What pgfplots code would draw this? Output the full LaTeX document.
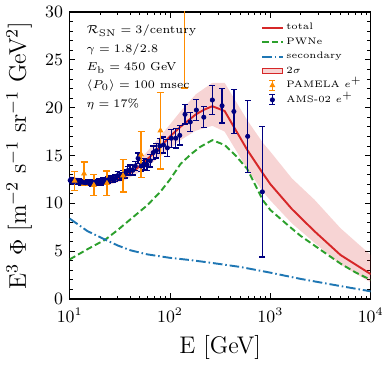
\documentclass[border=0pt]{standalone}
\usepackage{pgfplots}
\pgfplotsset{compat=1.18}
\definecolor{tred}{RGB}{214,39,40}
\definecolor{tgreen}{RGB}{44,160,44}
\definecolor{tblue}{RGB}{31,119,180}
\definecolor{porange}{RGB}{255,140,0}
\definecolor{amsnavy}{RGB}{0,0,128}
\begin{document}
\begin{tikzpicture}
\begin{axis}[
  scale only axis, width=156.5pt, height=149.25pt,
  xmode=log, xmin=10, xmax=10000, ymin=0, ymax=30,
  ytick={0,5,...,30}, minor y tick num=4,
  tick align=inside, major tick length=3pt, minor tick length=1.7pt,
  axis line style={line width=0.6pt},
  every tick/.style={black, line width=0.4pt},
  tick label style={font=\fontsize{9}{10}\selectfont},
  xticklabel style={yshift=-1pt},
  label style={font=\fontsize{12.5}{14}\selectfont},
  xlabel={E [GeV]},
  ylabel={E$^3$ $\Phi$ [m$^{-2}$ s$^{-1}$ sr$^{-1}$ GeV$^2$]},
  legend style={at={(rel axis cs:1.0,0.985)}, anchor=north east, draw=none, fill=none,
    font=\fontsize{4.9}{5.5}\selectfont, row sep=0pt,
    nodes={text height=3.4pt, text depth=1.1pt, inner sep=1.5pt}},
  legend cell align=left,
]
% 2 sigma band
\addplot[draw=none, fill=tred, fill opacity=0.2, forget plot] coordinates {
(10,12.85) (17.5,12.35) (25,12.55) (35,13.2) (52.7,14.8) (80,17.0) (127,19.6) (181,21.4) (264,22.6) (350,22.6) (587,18.7) (845,16.3) (1000,15.4) (1640,12.6) (2740,10.4) (5000,7.4) (10000,4.6)
(10000,1.73) (5000,3.6) (2740,5.9) (1640,7.9) (1000,10.3) (845,11.2) (587,13.6) (350,17.5) (264,18.1) (181,17.6) (127,16.6) (80,14.9) (52.7,13.4) (35,12.4) (25,11.95) (17.5,11.85) (10,12.35)
} -- cycle;
% PWNe
\addplot[tgreen, line width=1pt, dash pattern=on 3.3pt off 1.7pt, forget plot] coordinates {
(10,4.14) (15,5.2) (22.6,6.2) (30,7.2) (40,8.3) (58.9,9.77) (80,11.2) (100,12.5) (127,14.1) (160,15.1) (200,15.9) (264,16.6) (350,16.1) (450,15.0) (587,13.6) (700,12.0) (845,10.3) (1000,9.3) (1500,7.7) (2000,6.6) (2740,5.6) (4000,4.4) (5000,3.7) (7000,2.8) (10000,2.0)
};
% secondary
\addplot[tblue, line width=1pt, dash pattern=on 5pt off 1.5pt on 0.8pt off 1.5pt, forget plot] coordinates {
(10,8.4) (15,7.1) (22.6,6.2) (30,5.6) (40,5.1) (58.9,4.67) (100,4.3) (159,4.07) (250,3.8) (500,3.35) (845,2.9) (1000,2.75) (2000,2.1) (5000,1.35) (10000,0.8)
};
% total
\addplot[tred, line width=1pt, forget plot] coordinates {
(10,12.6) (13,12.3) (17.5,12.1) (25,12.25) (35,12.8) (45,13.5) (52.7,14.1) (65,15.0) (80,15.9) (100,17.0) (127,18.0) (181,19.3) (220,19.8) (264,20.15) (350,19.65) (587,15.6) (845,13.1) (1000,12.0) (1640,9.4) (2740,7.1) (5000,4.6) (10000,2.6)
};
% AMS-02
\addplot[amsnavy, only marks, mark=*, mark size=1.1pt, forget plot,
  error bars/.cd, y dir=both, y explicit,
  error bar style={draw=amsnavy, line width=0.7pt},
  error mark options={draw=amsnavy, line width=0.7pt, mark size=1.5pt, rotate=90}]
table[x index=0, y index=1, y error index=2] {
10.1 12.4 0.3
10.6 12.35 0.3
11.1 12.3 0.3
11.7 12.3 0.3
12.3 12.25 0.3
12.9 12.2 0.3
13.6 12.2 0.3
14.3 12.15 0.3
15.0 12.2 0.3
15.8 12.15 0.3
16.6 12.1 0.3
17.5 12.2 0.3
18.5 12.15 0.3
19.5 12.3 0.3
20.5 12.2 0.3
21.6 12.35 0.3
22.8 12.3 0.35
24.0 12.45 0.35
25.4 12.5 0.35
26.9 12.55 0.35
28.4 12.6 0.35
30.0 12.9 0.4
31.8 12.85 0.4
33.6 13.0 0.4
35.5 13.1 0.45
37.6 13.4 0.45
40.0 13.5 0.5
42.5 13.45 0.5
45.0 13.9 0.5
48.0 14.7 0.55
51.5 13.9 0.55
55.0 14.1 0.6
59.0 14.0 0.6
63.5 14.45 0.65
68.0 15.3 0.7
73.0 15.5 0.75
79.0 16.0 0.8
86.0 16.1 0.85
94.0 15.8 0.9
103 16.8 0.95
114 16.8 1.0
125 17.1 1.0
141 19.3 1.0
159 18.5 1.0
183 19.75 1.1
217 19.0 1.1
264 20.8 1.5
330 20.2 1.8
433 19.6 2.3
594 17.0 3.75
832 11.2 6.8
};
% PAMELA
\addplot[porange, only marks, mark=triangle*, mark size=1.4pt, forget plot,
  error bars/.cd, y dir=both, y explicit,
  error bar style={draw=porange, line width=0.75pt},
  error mark options={draw=porange, line width=0.75pt, mark size=1.8pt, rotate=90}]
table[x index=0, y index=1, y error index=2] {
11.2 12.35 1.0
13.9 13.1 1.2
17.4 11.9 1.1
23.5 12.1 1.3
34.0 12.9 1.7
51.5 15.1 2.4
80.2 17.6 4.0
139 31.0 8.95
};
% annotation
\node[anchor=north west, align=left, font=\fontsize{6}{9.5}\selectfont, inner sep=0pt]
  at (rel axis cs:0.055,0.955)
  {$\mathcal{R}_{\rm SN}=3/{\rm century}$\\ $\gamma=1.8/2.8$\\ $E_{\rm b}=450$ GeV\\ $\langle P_0\rangle=100$ msec\\ $\eta=17\%$};
% legend
\addlegendimage{legend image code/.code={\draw[tred, line width=1pt] (0cm,0cm) -- (0.37cm,0cm);}}
\addlegendentry{total}
\addlegendimage{legend image code/.code={\draw[tgreen, line width=1pt, dash pattern=on 3.3pt off 1.7pt] (0cm,0cm) -- (0.37cm,0cm);}}
\addlegendentry{PWNe}
\addlegendimage{legend image code/.code={\draw[tblue, line width=1pt, dash pattern=on 5pt off 1.5pt on 0.8pt off 1.5pt] (0cm,0cm) -- (0.37cm,0cm);}}
\addlegendentry{secondary}
\addlegendimage{legend image code/.code={\fill[tred, fill opacity=0.2] (0cm,-1.5pt) rectangle (0.37cm,1.5pt);}}
\addlegendentry{$2\sigma$}
\addlegendimage{legend image code/.code={
  \draw[porange, line width=0.6pt] (0.185cm,-2.6pt) -- (0.185cm,2.6pt);
  \draw[porange, line width=0.6pt] (0.185cm-1.5pt,-2.6pt) -- (0.185cm+1.5pt,-2.6pt);
  \draw[porange, line width=0.6pt] (0.185cm-1.5pt,2.6pt) -- (0.185cm+1.5pt,2.6pt);
  \path[porange, fill=porange] plot[mark=triangle*, mark size=1.4pt, only marks] coordinates {(0.185cm,0cm)};}}
\addlegendentry{PAMELA $e^+$}
\addlegendimage{legend image code/.code={
  \draw[amsnavy, line width=0.6pt] (0.185cm,-2.6pt) -- (0.185cm,2.6pt);
  \draw[amsnavy, line width=0.6pt] (0.185cm-1.5pt,-2.6pt) -- (0.185cm+1.5pt,-2.6pt);
  \draw[amsnavy, line width=0.6pt] (0.185cm-1.5pt,2.6pt) -- (0.185cm+1.5pt,2.6pt);
  \path[amsnavy, fill=amsnavy] plot[mark=*, mark size=1.1pt, only marks] coordinates {(0.185cm,0cm)};}}
\addlegendentry{AMS-02 $e^+$}
\end{axis}
\end{tikzpicture}
\end{document}
